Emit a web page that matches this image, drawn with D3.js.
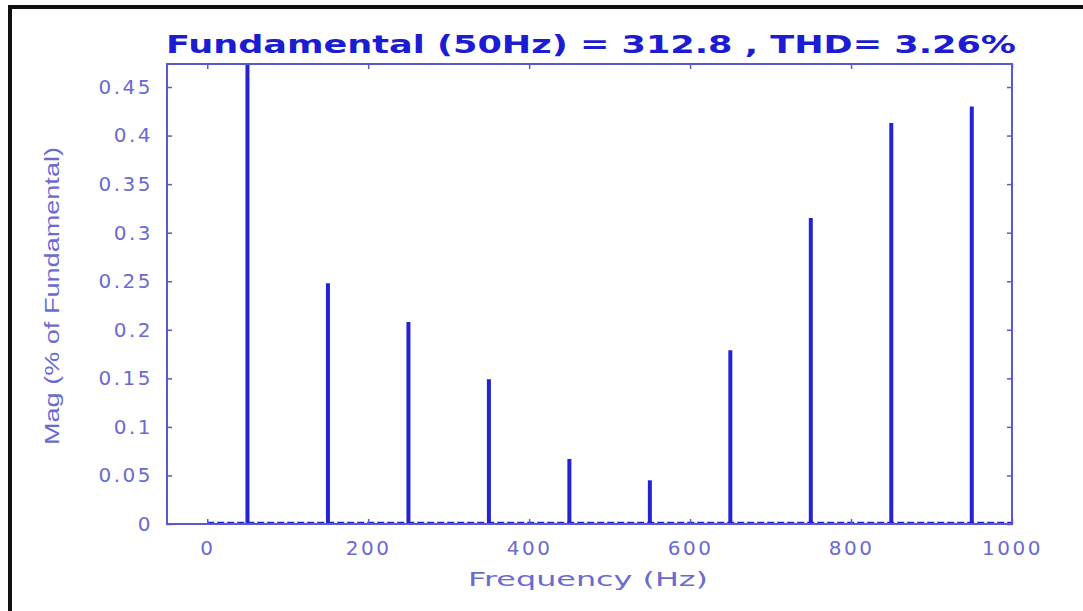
<!DOCTYPE html>
<html>
<head>
<meta charset="utf-8">
<script src="https://cdn.jsdelivr.net/npm/d3@7"></script>
<style>
  body { margin: 0; background: #fff; }
  svg { display: block; }
</style>
</head>
<body>
<svg width="1083" height="611"></svg>
<script>
// harmonic frequencies (Hz) and magnitudes
let freqs = [50, 150, 250, 350, 450, 550, 650, 750, 850, 950];
let mags = [1.0, 0.248, 0.208, 0.149, 0.067, 0.045, 0.179, 0.315, 0.413, 0.430];

let xTicks = [0, 200, 400, 600, 800, 1000];
let yTicks = [0, 0.05, 0.1, 0.15, 0.2, 0.25, 0.3, 0.35, 0.4, 0.45];

let titleText = 'Fundamental (50Hz) = 312.8 , THD= 3.26%';

let svg = d3.select('svg');

let plot = { l: 167, r: 1012, t: 64, b: 524 };

let axisColor = '#5a5ad0';
let labelColor = '#6a6ad2';
let barColor = '#2323d4';

let xScale = d3.scaleLinear()
    .domain([-50, 1000])
    .range([plot.l, plot.r]);

let yScale = d3.scaleLinear()
    .domain([0, 0.4737])
    .range([plot.b, plot.t]);

// outer black frame of the screenshot
svg.append('rect')
    .attr('x', 10)
    .attr('y', 7)
    .attr('width', 1100)
    .attr('height', 700)
    .attr('fill', 'none')
    .attr('stroke', '#111')
    .attr('stroke-width', 4);

svg.append('defs').append('clipPath')
    .attr('id', 'clip')
    .append('rect')
    .attr('x', plot.l)
    .attr('y', plot.t)
    .attr('width', plot.r - plot.l)
    .attr('height', plot.b - plot.t);

let chartG = svg.append('g').attr('clip-path', 'url(#clip)');

// low-level noise floor along the baseline
chartG.append('line')
    .attr('x1', xScale(0))
    .attr('x2', xScale(1000))
    .attr('y1', yScale(0) - 1.5)
    .attr('y2', yScale(0) - 1.5)
    .attr('stroke', barColor)
    .attr('stroke-width', 1.6)
    .attr('stroke-dasharray', '7,3');

chartG.selectAll('.bar').data(freqs).enter().append('line')
    .attr('class', 'bar')
    .attr('x1', d => xScale(d))
    .attr('x2', d => xScale(d))
    .attr('y1', yScale(0))
    .attr('y2', (d, i) => yScale(mags[i]))
    .attr('stroke', barColor)
    .attr('stroke-width', 4);

// axes: box with inward ticks on all sides
let tickLen = 5;

let bottomAxis = d3.axisBottom(xScale).tickValues(xTicks).tickSizeInner(-tickLen).tickSizeOuter(0).tickPadding(17)
    .tickFormat(d => String(d));
let topAxis = d3.axisTop(xScale).tickValues(xTicks).tickSizeInner(-tickLen).tickSizeOuter(0).tickFormat('');
let leftAxis = d3.axisLeft(yScale).tickValues(yTicks).tickSizeInner(-tickLen).tickSizeOuter(0).tickPadding(14)
    .tickFormat(d => String(+d.toFixed(2)));
let rightAxis = d3.axisRight(yScale).tickValues(yTicks).tickSizeInner(-tickLen).tickSizeOuter(0).tickFormat('');

function styleAxis(g) {
    g.select('.domain').remove();
    g.selectAll('line').attr('stroke', axisColor).attr('stroke-width', 1.5);
    g.selectAll('text')
        .attr('fill', labelColor)
        .attr('font-family', 'DejaVu Sans, Verdana, sans-serif')
        .attr('font-size', '20px')
        .attr('letter-spacing', '2.5px');
}

svg.append('g').attr('transform', 'translate(0,' + plot.b + ')').call(bottomAxis).call(styleAxis);
svg.append('g').attr('transform', 'translate(0,' + plot.t + ')').call(topAxis).call(styleAxis);
svg.append('g').attr('transform', 'translate(' + plot.l + ',0)').call(leftAxis).call(styleAxis);
svg.append('g').attr('transform', 'translate(' + plot.r + ',0)').call(rightAxis).call(styleAxis);

svg.append('rect')
    .attr('x', plot.l)
    .attr('y', plot.t)
    .attr('width', plot.r - plot.l)
    .attr('height', plot.b - plot.t)
    .attr('fill', 'none')
    .attr('stroke', axisColor)
    .attr('stroke-width', 2);

// title
svg.append('text')
    .attr('x', 591)
    .attr('y', 53)
    .attr('text-anchor', 'middle')
    .attr('fill', '#1c1cd2')
    .attr('font-family', 'DejaVu Sans, Verdana, sans-serif')
    .attr('font-weight', 'bold')
    .attr('font-size', '25px')
    .attr('textLength', 850)
    .attr('lengthAdjust', 'spacingAndGlyphs')
    .text(titleText);

// axis labels
svg.append('text')
    .attr('x', 588)
    .attr('y', 586)
    .attr('text-anchor', 'middle')
    .attr('fill', labelColor)
    .attr('font-family', 'DejaVu Sans, Verdana, sans-serif')
    .attr('font-size', '20px')
    .attr('textLength', 240)
    .attr('lengthAdjust', 'spacingAndGlyphs')
    .text('Frequency (Hz)');

svg.append('text')
    .attr('transform', 'translate(59,296) rotate(-90)')
    .attr('text-anchor', 'middle')
    .attr('fill', labelColor)
    .attr('font-family', 'Liberation Sans, Arial, sans-serif')
    .attr('font-size', '20px')
    .attr('textLength', 298)
    .attr('lengthAdjust', 'spacingAndGlyphs')
    .text('Mag (% of Fundamental)');
</script>
</body>
</html>
